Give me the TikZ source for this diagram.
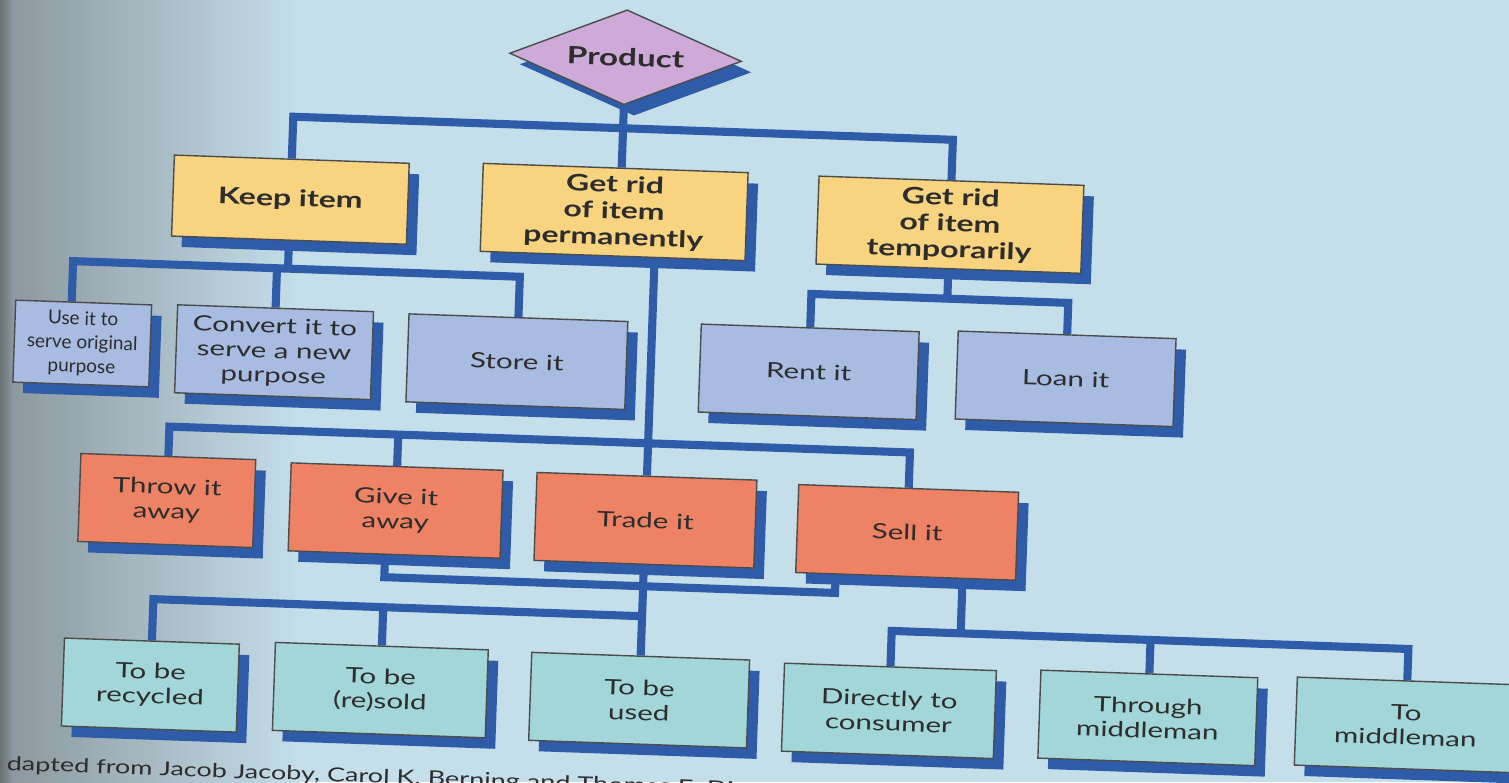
\documentclass[tikz,border=0pt]{standalone}
\usepackage{fontspec}
\newfontfamily\boxfont[FakeStretch=1.4]{Lato}
\newfontfamily\narrowfont{Lato}
\usetikzlibrary{shapes.geometric,shadows,backgrounds}
\definecolor{paper}{RGB}{196,222,234}
\definecolor{gutter}{RGB}{138,150,156}
\definecolor{edge}{RGB}{105,112,112}
\definecolor{linkblue}{RGB}{46,92,168}
\definecolor{lilac}{RGB}{205,170,215}
\definecolor{straw}{RGB}{248,212,128}
\definecolor{slate}{RGB}{168,188,226}
\definecolor{salmon}{RGB}{238,130,100}
\definecolor{aqua}{RGB}{162,214,216}
\definecolor{ink}{RGB}{45,45,45}

\begin{document}
\begin{tikzpicture}[x=0.02cm,y=-0.02cm,
	box/.style={draw=ink!85,line width=0.8pt,text=ink,align=center,inner sep=2pt,
		minimum height=1.76cm,font=\boxfont\fontsize{12}{14}\selectfont,
		drop shadow={shadow xshift=0.2cm,shadow yshift=-0.22cm,fill=linkblue,opacity=1}},
	choice/.style={box,fill=straw,font=\boxfont\bfseries\fontsize{13}{15}\selectfont},
	keeping/.style={box,fill=slate},
	riddance/.style={box,fill=salmon},
	outlet/.style={box,fill=aqua},
	link/.style={linkblue,line width=4.6pt}]
	\useasboundingbox (0,0) rectangle (1509,782);
	\begin{scope}[on background layer]
		\fill[paper] (0,0) rectangle (1509,782);
		\shade[left color=gutter,right color=paper] (0,0) rectangle (300,782);
		\shade[left color=edge,right color=gutter] (0,0) rectangle (12,782);
	\end{scope}
	
	\begin{scope}[rotate around={-2:(755,391)},transform shape]
	\node[diamond,aspect=2.45,draw=ink!85,line width=0.8pt,fill=lilac,text=ink,inner sep=1pt,
		minimum width=4.64cm,minimum height=1.9cm,font=\boxfont\bfseries\fontsize{13.5}{14}\selectfont,
		drop shadow={shadow xshift=0.2cm,shadow yshift=-0.22cm,fill=linkblue,opacity=1}]
		(product) at (614,62) {Product};
	
	\node[choice,minimum width=4.7cm,minimum height=1.62cm] (keep) at (284,216) {Keep item};
	\node[choice,minimum width=5.3cm] (perm) at (608,217) {Get rid\\of item\\permanently};
	\node[choice,minimum width=5.3cm] (temp) at (944,218) {Get rid\\of item\\temporarily};
	
	\node[keeping,minimum width=2.72cm,minimum height=1.64cm,
		font=\narrowfont\fontsize{10.8}{13.5}\selectfont] (use) at (81,367) {Use it to\\serve original\\purpose};
	\node[keeping,minimum width=3.92cm] (convert) at (273,369) {Convert it to\\serve a new\\purpose};
	\node[keeping,minimum width=4.38cm] (store) at (516,370) {Store it};
	\node[keeping,minimum width=4.36cm] (rent) at (808,370) {Rent it};
	\node[keeping,minimum width=4.36cm] (loan) at (1065,368) {Loan it};
	
	\node[riddance,minimum width=3.5cm] (throw) at (171,521) {Throw it\\away};
	\node[riddance,minimum width=4.24cm] (give) at (400,523) {Give it\\away};
	\node[riddance,minimum width=4.4cm] (trade) at (650,524) {Trade it};
	\node[riddance,minimum width=4.4cm] (sell) at (912,527) {Sell it};
	
	\node[outlet,minimum width=3.5cm] (recycled) at (161,706) {To be\\recycled};
	\node[outlet,minimum width=4.26cm] (resold) at (391,703) {To be\\(re)sold};
	\node[outlet,minimum width=4.36cm] (used) at (650,704) {To be\\used};
	\node[outlet,minimum width=4.24cm] (direct) at (900,706) {Directly to\\consumer};
	\node[outlet,minimum width=4.34cm] (through) at (1159,704) {Through\\middleman};
	\node[outlet,minimum width=4.4cm] (tomid) at (1417,702) {To\\middleman};
	
	\node[anchor=base west,text=ink,font=\boxfont\fontsize{11}{13}\selectfont]
		(credit) at (14,796) {dapted from Jacob Jacoby, Carol K. Berning and Thomas E. Di};
	
	\coordinate (topbus) at (0,133);
	\coordinate (keepbus) at (0,285);
	\coordinate (tempbus) at (0,292);
	\coordinate (ridbus) at (0,447);
	\coordinate (loopbus) at (0,590);
	\coordinate (usebus) at (0,620);
	\coordinate (sellbus) at (0,626);
	
	\begin{scope}[on background layer]
	\draw[link] (product.south) -- (product.south |- topbus);
	\draw[link] (keep.north) |- (temp.north |- topbus) -- (temp.north);
	\draw[link] (perm.north -| product.south) -- (product.south |- topbus);
	
	\draw[link] (keep.south) -- (keep.south |- keepbus);
	\draw[link] ([xshift=-0.24cm]use.north) |- (store.north |- keepbus) -- (store.north);
	\draw[link] (convert.north) -- (convert.north |- keepbus);
	
	\draw[link] (temp.south) -- (temp.south |- tempbus);
	\draw[link] (rent.north) |- (loan.north |- tempbus) -- (loan.north);
	
	\draw[link] (perm.south -| trade.north) -- (trade.north);
	\draw[link] (throw.north) |- (sell.north |- ridbus) -- (sell.north);
	\draw[link] (give.north) -- (give.north |- ridbus);
	
	\draw[link] ([xshift=-0.18cm]give.south) |- ([xshift=-1.4cm]sell.south |- loopbus) -- ([xshift=-1.4cm]sell.south);
	\draw[link] (trade.south) -- (used.north);
	\draw[link] (recycled.north) |- (used.north |- usebus);
	\draw[link] (resold.north) -- (resold.north |- usebus);
	
	\draw[link] ([xshift=1.14cm]sell.south) -- ([xshift=1.14cm]sell.south |- sellbus);
	\draw[link] (direct.north) |- (tomid.north |- sellbus) -- (tomid.north);
	\draw[link] (through.north) -- (through.north |- sellbus);
	\end{scope}
	\end{scope}
\end{tikzpicture}
\end{document}
